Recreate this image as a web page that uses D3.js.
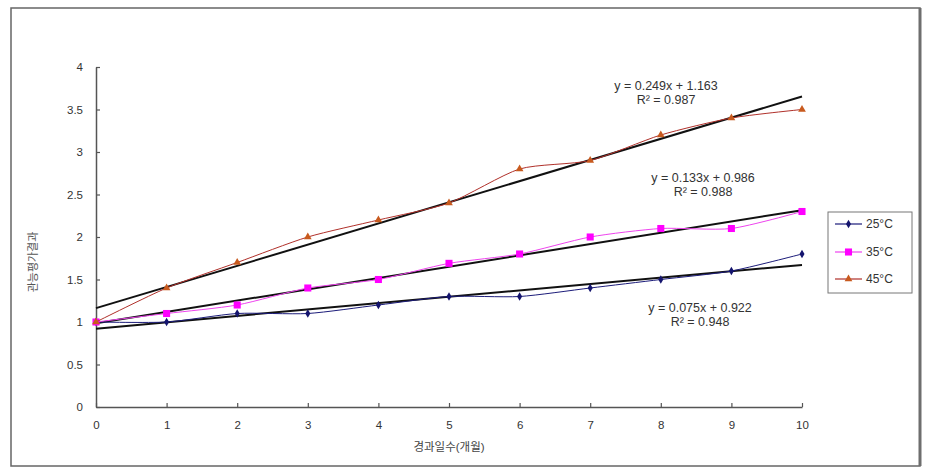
<!DOCTYPE html>
<html><head><meta charset="utf-8">
<script src="https://cdn.jsdelivr.net/npm/d3@7"></script>
<style>body{margin:0;background:#fff}svg{display:block}text{font-family:Arial,"Liberation Sans","Noto Sans CJK KR",sans-serif}</style>
</head><body><svg id="c" width="931" height="473"></svg>
<script>
const months = [0,1,2,3,4,5,6,7,8,9,10];
const xTicks = [0,1,2,3,4,5,6,7,8,9,10];
const yTicks = [0,0.5,1,1.5,2,2.5,3,3.5,4];
const seriesNames = ["25°C","35°C","45°C"];
const s25 = [1,1,1.1,1.1,1.2,1.3,1.3,1.4,1.5,1.6,1.8];
const s35 = [1,1.1,1.2,1.4,1.5,1.69,1.8,2.0,2.1,2.1,2.3];
const s45 = [1,1.4,1.7,2.0,2.2,2.4,2.8,2.9,3.2,3.4,3.5];
const slopes = [0.075,0.133,0.249];
const intercepts = [0.922,0.986,1.163];
const eqTexts = ["y = 0.075x + 0.922","y = 0.133x + 0.986","y = 0.249x + 1.163"];
const r2Texts = ["R² = 0.948","R² = 0.988","R² = 0.987"];
const xTitle = "경과일수(개월)";
const yTitle = "관능평가결과";

const svg = d3.select("#c");
const x = d3.scaleLinear().domain([0,10]).range([96,802]);
const y = d3.scaleLinear().domain([0,4]).range([407,67]);

// outer frame
svg.append("rect").attr("x",11).attr("y",8).attr("width",909).attr("height",458)
  .attr("fill","none").attr("stroke","#666").attr("stroke-width",1.5);
svg.append("line").attr("x1",920).attr("x2",920).attr("y1",8).attr("y2",466)
  .attr("stroke","#6e6e6e").attr("stroke-width",3);

// axes
const gx = svg.append("g").attr("transform","translate(0,407)")
  .call(d3.axisBottom(x).tickValues(xTicks).tickSizeInner(-4).tickSizeOuter(0).tickPadding(14).tickFormat(d3.format("d")));
const gy = svg.append("g").attr("transform","translate(96,0)")
  .call(d3.axisLeft(y).tickValues(yTicks).tickSizeInner(-4).tickSizeOuter(0).tickPadding(13).tickFormat(d=>d));
[gx,gy].forEach(g=>{
  g.select(".domain").attr("stroke","#555").attr("stroke-width",1.5);
  g.selectAll(".tick line").attr("stroke","#555").attr("stroke-width",1.2);
  g.selectAll(".tick text").attr("font-size",11.5).attr("fill","#333");
});

svg.append("text").attr("x",449).attr("y",451).attr("text-anchor","middle")
  .attr("font-size",11.5).attr("fill","#444").text(xTitle);
svg.append("text").attr("transform","translate(37,262) rotate(-90)").attr("text-anchor","middle")
  .attr("font-size",11).attr("fill","#555").text(yTitle);

const data = [s25,s35,s45];
const lineColors = ["#1c1c7a","#ee44ee","#b0302a"];
const markColors = ["#14146e","#ff00ff","#c85a1e"];
const markTypes = [d3.symbolDiamond, d3.symbolSquare, d3.symbolTriangle];
const markSizes = [22,50,26];

// trend lines
slopes.forEach((s,i)=>{
  svg.append("line").attr("x1",x(0)).attr("y1",y(intercepts[i]))
    .attr("x2",x(10)).attr("y2",y(intercepts[i]+s*10))
    .attr("stroke","#111").attr("stroke-width",2);
});

const line = d3.line().x((d,i)=>x(months[i])).y(d=>y(d)).curve(d3.curveCardinal.tension(0.3));
data.forEach((vals,k)=>{
  svg.append("path").datum(vals).attr("d",line).attr("fill","none")
    .attr("stroke",lineColors[k]).attr("stroke-width",1);
  svg.append("g").selectAll("path").data(vals).join("path")
    .attr("transform",(d,i)=>`translate(${x(months[i])},${y(d)})`)
    .attr("d",d3.symbol().type(markTypes[k]).size(markSizes[k]))
    .attr("fill",markColors[k]);
});

// equations
const eqPos = [[700,312],[703,182],[666,90]];
eqTexts.forEach((t,i)=>{
  svg.append("text").attr("x",eqPos[i][0]).attr("y",eqPos[i][1]).attr("text-anchor","middle")
    .attr("font-size",12.5).attr("fill","#333").text(t);
  svg.append("text").attr("x",eqPos[i][0]).attr("y",eqPos[i][1]+14).attr("text-anchor","middle")
    .attr("font-size",12.5).attr("fill","#333").text(r2Texts[i]);
});

// legend
const lg = svg.append("g");
lg.append("rect").attr("x",828).attr("y",212).attr("width",84).attr("height",81)
  .attr("fill","#fff").attr("stroke","#777").attr("stroke-width",1);
const ly = [224,252,279];
seriesNames.forEach((n,k)=>{
  lg.append("line").attr("x1",835).attr("x2",862).attr("y1",ly[k]).attr("y2",ly[k])
    .attr("stroke",lineColors[k]).attr("stroke-width",1.2);
  lg.append("path").attr("transform",`translate(848.5,${ly[k]})`)
    .attr("d",d3.symbol().type(markTypes[k]).size(markSizes[k])).attr("fill",markColors[k]);
  lg.append("text").attr("x",866).attr("y",ly[k]+4).attr("font-size",12).attr("fill","#333").text(n);
});
</script></body></html>
